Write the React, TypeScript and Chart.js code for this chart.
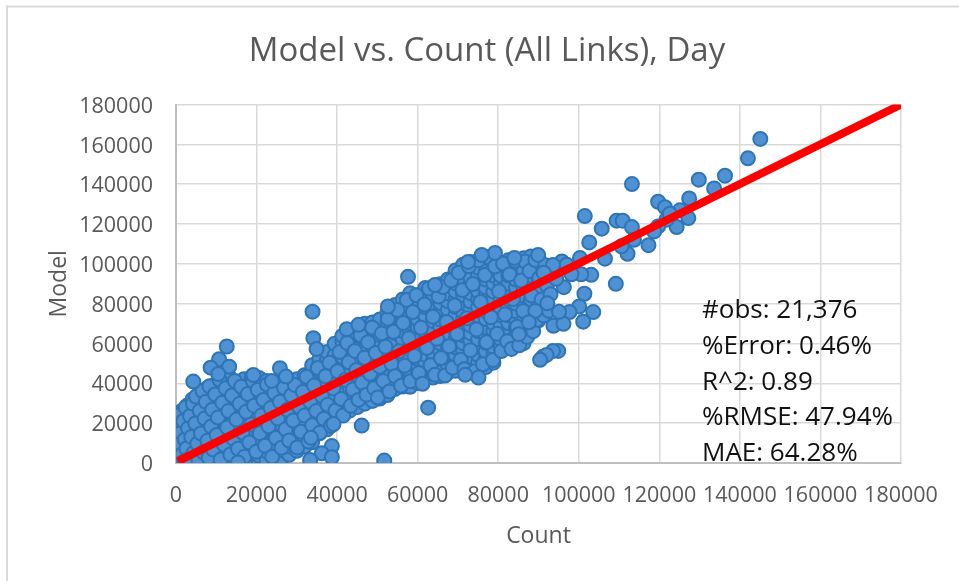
import React, { useEffect, useRef } from "react";
import { Chart, registerables } from "chart.js";

Chart.register(...registerables);

const CHART_TITLE = "Model vs. Count (All Links), Day";
const X_TITLE = "Count";
const Y_TITLE = "Model";
const STATS = ["#obs: 21,376", "%Error: 0.46%", "R^2: 0.89", "%RMSE: 47.94%", "MAE: 64.28%"];
const TICK_MAX = 180000;
const TICK_STEP = 20000;

const fitLine = [
  [500, 900],
  [180000, 180000],
];

// Isolated points read one by one: [count, model]
const outliers = [
  [145070, 162750], [142000, 153000], [136300, 144300], [129800, 142300], [133600, 137900],
  [113200, 140100], [127400, 132900], [119700, 131200], [121400, 128500], [125100, 126900],
  [101500, 124000], [109400, 121700], [110900, 121700], [105700, 117700], [113200, 118500],
  [127200, 123000], [124300, 118500], [121800, 122200], [119700, 118800], [118700, 116300],
  [117300, 109400], [112100, 105100], [110600, 108800], [113700, 112100], [102600, 110800],
  [106500, 102600], [100300, 102900], [103100, 94500], [100600, 94800], [98200, 94800],
  [109200, 90000], [101400, 85000], [100100, 78600], [103600, 75800], [97700, 75800],
  [101100, 71000], [96200, 69900], [94900, 56300], [95800, 101200], [97000, 99600],
  [93600, 56300], [91100, 53300], [92000, 54300], [90400, 51800], [122600, 125200],
  [33900, 76000], [34100, 62700], [34900, 57300], [12600, 58500], [10700, 52100],
  [13200, 48400], [8600, 47900], [10500, 44700], [4300, 40900], [25800, 47600],
  [27300, 43400], [23800, 41200], [19200, 44200], [62600, 27800], [46100, 18800],
  [33500, 12700], [38700, 8500], [36200, 4900], [33300, 1500], [38700, 2900],
  [51700, 1200], [39100, 19600], [15400, 300], [42400, 67200], [45300, 69400],
  [52600, 78600], [75100, 42900], [71800, 44300], [57600, 93500], [79200, 105500],
  [75900, 104500], [89900, 104500], [84000, 103000], [93600, 99500], [72500, 101000],
  [64300, 89400], [96300, 88300], [93000, 84800], [95100, 75900], [92200, 80200],
  [94400, 92500], [91300, 95600], [89200, 76400], [87600, 70700], [85100, 64700],
];

// Irregular points on top of the dense cloud: [count, model]
const scattered = [
  [200, 6200], [350, 12800], [500, 18900], [700, 1500], [900, 9800], [1100, 24300], [1200, 15200], [1500, 4300],
  [1800, 21100], [2100, 900], [2200, 11800], [2400, 27900], [2600, 7300], [3000, 17400], [3300, 2200], [3500, 23600],
  [3800, 13100], [4200, 29800], [4400, 5200], [4800, 19900], [5000, 33400], [5300, 9700], [5600, 1100], [5900, 26300],
  [6200, 14800], [6600, 36100], [6800, 5400], [7100, 22300], [7400, 30700], [7800, 11200], [8100, 2700], [8300, 38500],
  [8700, 18300], [9000, 26800], [9200, 6800], [9700, 34400], [10100, 14100], [10400, 22800], [10800, 41800], [11100, 1800],
  [11500, 30300], [11900, 9200], [12300, 37600], [12700, 17800], [13000, 26100], [13500, 4300], [13900, 33900], [14200, 12200],
  [14600, 41200], [15000, 21800], [15400, 7100], [15800, 29700], [16200, 38300], [16500, 15300], [17000, 3100], [17400, 25700],
  [17800, 34600], [18200, 10300], [18700, 19300], [19100, 41200], [19400, 28800], [19900, 5600], [20300, 36800], [20800, 14900],
  [21200, 23800], [21700, 31700], [22100, 8700], [22600, 39400], [23000, 18400], [23500, 27600], [23900, 3200], [24400, 35200],
  [24800, 12600], [25300, 22300], [25800, 30800], [26200, 7600], [26800, 37800], [27200, 16900], [27600, 26700], [28100, 11300],
  [28600, 33900], [29100, 21300], [29500, 39200], [30100, 7800], [30600, 28100], [31000, 15700], [31500, 35600], [31900, 23800],
  [32400, 43300], [32900, 10800], [33300, 30700], [33800, 18900], [34300, 38900], [34800, 26100], [35200, 47700], [35700, 15200],
  [36200, 33800], [36700, 22200], [37100, 43600], [37600, 29200], [38100, 50300], [38500, 18700], [39100, 37400], [39600, 26400],
  [40100, 46100], [40600, 55700], [41000, 32100], [41500, 23800], [42000, 41700], [42500, 60300], [42900, 50600], [43400, 28700],
  [43900, 36900], [44400, 56300], [44800, 46700], [45300, 31700], [45800, 64100], [46200, 40300], [46800, 52900], [47300, 34300],
  [47700, 60700], [48200, 44800], [48700, 68100], [49200, 37600], [49600, 55300], [50100, 32900], [50600, 48400], [51100, 65100],
  [51500, 41200], [52000, 58400], [52600, 72400], [53000, 35900], [53500, 49800], [54000, 65900], [54400, 43600], [55000, 76800],
  [55400, 56100], [55900, 38800], [56400, 70300], [56800, 48900], [57300, 81900], [57800, 62700], [58200, 41100], [58800, 75800],
  [59200, 53700], [59700, 84200], [60300, 45200], [60800, 67900], [61200, 39800], [61700, 79600], [62300, 57800], [62800, 87600],
  [63200, 49100], [63800, 73400], [64300, 44300], [64800, 62400], [65200, 83600], [65800, 52700], [66300, 88400], [66800, 43900],
  [67200, 70800], [67800, 58600], [68300, 91700], [68700, 47800], [69200, 79100], [69800, 64800], [70200, 95600], [70700, 51900],
  [71100, 86900], [71600, 47100], [72200, 72700], [72700, 98800], [73100, 56600], [73700, 89900], [74100, 45900], [74600, 67100],
  [75100, 101800], [75600, 80900], [76200, 49600], [76700, 94400], [77100, 60700], [77600, 103300], [78200, 73200], [78700, 51700],
  [79200, 98700], [79700, 64900], [80200, 86300], [80800, 56200], [81200, 100200], [81700, 74600], [82200, 61100], [82800, 94700],
  [83300, 57300], [83700, 82400], [84200, 101600], [84700, 68400], [85200, 59100], [85700, 91700], [86200, 76300], [86700, 101200],
  [87200, 63300], [87800, 96400], [88300, 84100], [88700, 66200], [89200, 101900], [89700, 71900], [90200, 92800], [90800, 82100],
  [91300, 74100], [91700, 99300], [92100, 89100], [92600, 76400], [93200, 94600], [93700, 68900],
];

// Dense cloud, read column by column: one count value, several model values
const cloudX = [
  300, 1400, 2700, 4100, 5900, 7600, 9500, 11200, 13100, 15000,
  16900, 18800, 20600, 22500, 24400, 26300, 28100, 30000, 31900, 33800,
  35600, 37500, 39400, 41300, 43100, 45000, 46900, 48800, 50600, 52500,
  54400, 56300, 58100, 60000, 61900, 63800, 65600, 67500, 69400, 71300,
  73100, 75000, 76900, 78800, 80600, 82500, 84400, 86300, 88100, 90000,
];
const cloudY = [
  [400, 2800, 5900, 8700, 11400, 14300, 17100, 20200, 23300],
  [300, 3300, 6200, 9800, 13100, 16400, 19700, 22800, 26100],
  [700, 2100, 5100, 8200, 11900, 15300, 18600, 22100, 25400, 28700],
  [300, 3700, 7100, 10600, 14200, 17700, 21300, 24800, 28200, 31900],
  [800, 2600, 6100, 9500, 13300, 16800, 20400, 24100, 27600, 30900, 35200],
  [300, 3900, 7400, 11100, 14700, 18300, 21800, 25700, 29400, 33100, 37400],
  [900, 4600, 8200, 12100, 15900, 19800, 23600, 27200, 31100, 34800, 39200],
  [300, 3200, 6700, 10400, 14300, 18100, 22200, 26100, 30000, 33700, 37600, 41300],
  [800, 5200, 9300, 13400, 17200, 21300, 25200, 29100, 32800, 36900, 40800, 43600],
  [1400, 4100, 7900, 12100, 16300, 20200, 24300, 28200, 32100, 36100, 39800],
  [300, 3800, 7200, 11400, 15100, 19400, 23300, 27100, 31300, 35200, 39100, 42100],
  [1100, 5400, 9100, 13300, 17200, 21200, 25300, 29200, 33100, 37200, 41300, 43300],
  [500, 3600, 7800, 11900, 15900, 20100, 24200, 28100, 32200, 36300, 40100, 42700],
  [1300, 5800, 10100, 14200, 18300, 22100, 26300, 30200, 34100, 38000, 41200],
  [1700, 4800, 8900, 13100, 17100, 21200, 25200, 29300, 33200, 37100, 40200],
  [2600, 6400, 10700, 14900, 19100, 23200, 27100, 31300, 35200, 38900],
  [4100, 8300, 12200, 16300, 20400, 24200, 28300, 32100, 36400, 40800],
  [6100, 10200, 14300, 18100, 22300, 26200, 30100, 34300, 38300, 42100],
  [8300, 12400, 16200, 20300, 24100, 28300, 32200, 36100, 40200, 44100],
  [10400, 14200, 18100, 22400, 26200, 30300, 34200, 38100, 42200, 46100, 49100],
  [14900, 18300, 22100, 26300, 30100, 34200, 38300, 42100, 46300, 50200, 52100],
  [16900, 20200, 24300, 28100, 32200, 36200, 40300, 44200, 48100, 52200, 55800],
  [22400, 26100, 30200, 34300, 38100, 42200, 46100, 50300, 54200, 59900],
  [25300, 28900, 33100, 37200, 41300, 45200, 49100, 53200, 57300, 61200, 63800],
  [26300, 29800, 34200, 38100, 42300, 46200, 50300, 54100, 58200, 62300, 66100],
  [28100, 31900, 36200, 40100, 44200, 48300, 52100, 56200, 60300, 64100, 68300],
  [29800, 33700, 37800, 42200, 46100, 50200, 54300, 58100, 62200, 66300, 69900],
  [31200, 35100, 39300, 43200, 47300, 51200, 55100, 59300, 63200, 67100, 70600],
  [32400, 36400, 40200, 44300, 48200, 52300, 56200, 60100, 64300, 68200, 72100],
  [34100, 38100, 42300, 46200, 50100, 54300, 58200, 62100, 66200, 70300, 75600],
  [37200, 41200, 45100, 49300, 53200, 57100, 61300, 65200, 69100, 73200, 77100, 79400],
  [38400, 42300, 46200, 50100, 54300, 58200, 62100, 66300, 70200, 74100, 78300, 82100],
  [38300, 42100, 46300, 50200, 54100, 58300, 62200, 66100, 70300, 74200, 78100, 82300, 85200],
  [40200, 44100, 48200, 52300, 56100, 60200, 64300, 68100, 72200, 76300, 80100, 84300],
  [42400, 46200, 50100, 54300, 58200, 62100, 66300, 70200, 74100, 78300, 82200, 87900],
  [42900, 46800, 51200, 55100, 59300, 63200, 67100, 71300, 75200, 79100, 83200, 88100],
  [43700, 47900, 52200, 56300, 60100, 64200, 68300, 72100, 76200, 80300, 84100, 89800],
  [45400, 49300, 53100, 57200, 61300, 65100, 69200, 73300, 77100, 81200, 85300, 92200],
  [46300, 50200, 54300, 58100, 62200, 66300, 70100, 74200, 78300, 82100, 86200, 90300, 96700],
  [48200, 52100, 56300, 60200, 64100, 68300, 72200, 76100, 80300, 84200, 88100, 92300, 99600],
  [49100, 53200, 57100, 61300, 65200, 69100, 73300, 77200, 81100, 85300, 89200, 93100, 100900],
  [50300, 54200, 58300, 62100, 66200, 70300, 74100, 78200, 82300, 86100, 90200, 94300, 98100],
  [48200, 52300, 56100, 60300, 64200, 68100, 72300, 76200, 80100, 84300, 88200, 92100, 96300, 103400],
  [50400, 54300, 58200, 62100, 66300, 70200, 74100, 78300, 82200, 86100, 90300, 94200, 98100, 101900],
  [58100, 62300, 66200, 70100, 74300, 78200, 82100, 86300, 90200, 94100, 99800],
  [58300, 62200, 66100, 70300, 74200, 78100, 82300, 86200, 90100, 94300, 101800],
  [60400, 64200, 68100, 72300, 76200, 80100, 84300, 88200, 92100, 97300, 102100],
  [60200, 64100, 68300, 72200, 76100, 80300, 84200, 88100, 92300, 96200, 102800],
  [66100, 71900, 74300, 78200, 82100, 86300, 90200, 94100, 99800, 103700],
  [71700, 76300, 80200, 84100, 88300, 92200, 96100, 100200, 102900],
];

const cloudPoints = cloudX.flatMap((x, i) => cloudY[i].map((y) => ({ x, y })));
const toPoints = (rows: number[][]) => rows.map(([x, y]) => ({ x, y }));

const FONT = '"Open Sans", sans-serif';
const MARK = {
  backgroundColor: "#4F92D3",
  borderColor: "#2E75B6",
  borderWidth: 2,
  pointRadius: 7,
};

const decorPlugin = {
  id: "decor",
  afterLayout(chart: any) {
    if (chart.titleBlock) {
      chart.titleBlock.left = 15;
      chart.titleBlock.right = 959;
    }
  },
  beforeDraw(chart: any) {
    const { ctx } = chart;
    ctx.save();
    ctx.strokeStyle = "#D9D9D9";
    ctx.lineWidth = 2;
    ctx.beginPath();
    ctx.moveTo(7, 581);
    ctx.lineTo(7, 6.5);
    ctx.lineTo(959, 6.5);
    ctx.stroke();
    ctx.restore();
  },
  afterDraw(chart: any) {
    const { ctx } = chart;
    ctx.save();
    ctx.fillStyle = "#111111";
    ctx.font = `26px ${FONT}`;
    ctx.textAlign = "left";
    ctx.textBaseline = "alphabetic";
    STATS.forEach((s, i) => ctx.fillText(s, 702, 318 + i * 35.8));
    ctx.restore();
  },
};

export default function App() {
  const ref = useRef<HTMLCanvasElement>(null);
  useEffect(() => {
    document.body.style.margin = "0";
    const chart = new Chart(ref.current as HTMLCanvasElement, {
      type: "scatter",
      data: {
        datasets: [
          {
            label: "Fit",
            data: toPoints(fitLine),
            showLine: true,
            borderColor: "#FF0000",
            borderWidth: 8,
            pointRadius: 0,
            order: 0,
          },
          { label: "Outliers", data: toPoints(outliers), ...MARK, order: 1 },
          { label: "Scattered", data: toPoints(scattered), ...MARK, order: 2 },
          { label: "Links", data: cloudPoints, ...MARK, order: 3 },
        ],
      },
      options: {
        animation: false,
        responsive: false,
        layout: { padding: { top: 0, right: 58, bottom: 0, left: 0 } },
        plugins: {
          legend: { display: false },
          tooltip: { enabled: false },
          title: {
            display: true,
            text: CHART_TITLE,
            color: "#595959",
            font: { family: FONT, size: 33, weight: "normal" },
            padding: { top: 32, bottom: 33 },
          },
        },
        scales: {
          x: {
            type: "linear",
            min: 0,
            max: TICK_MAX,
            afterFit(s: any) {
              s.height = 118;
            },
            ticks: {
              stepSize: TICK_STEP,
              color: "#595959",
              padding: 20,
              maxRotation: 0,
              autoSkip: false,
              font: { family: FONT, size: 21.5 },
              callback: (v: any) => String(v),
            },
            grid: { color: "#D9D9D9", lineWidth: 1.5, drawTicks: false },
            border: { color: "#BFBFBF", width: 2 },
            title: {
              display: true,
              text: X_TITLE,
              color: "#595959",
              font: { family: FONT, size: 23 },
              padding: { top: 31, bottom: 31 },
            },
          },
          y: {
            type: "linear",
            min: 0,
            max: TICK_MAX,
            afterFit(s: any) {
              s.width = 176;
            },
            ticks: {
              stepSize: TICK_STEP,
              color: "#595959",
              padding: 23,
              labelOffset: 2,
              autoSkip: false,
              font: { family: FONT, size: 21.5 },
              callback: (v: any) => String(v),
            },
            grid: { color: "#D9D9D9", lineWidth: 1.5, drawTicks: false },
            border: { color: "#BFBFBF", width: 2 },
            title: {
              display: true,
              text: Y_TITLE,
              color: "#595959",
              font: { family: FONT, size: 23 },
              padding: { top: 46, bottom: 46 },
            },
          },
        },
      },
      plugins: [decorPlugin],
    } as any);
    return () => chart.destroy();
  }, []);
  return <canvas ref={ref} width={959} height={581} style={{ display: "block" }} />;
}
